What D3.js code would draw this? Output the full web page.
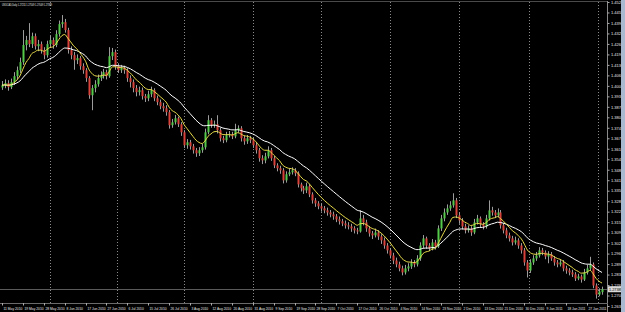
<!DOCTYPE html>
<html>
<head>
<meta charset="utf-8">
<script src="https://cdn.jsdelivr.net/npm/d3@7/dist/d3.min.js"></script>
<style>
  html, body { margin: 0; padding: 0; background: #000; }
  svg { display: block; }
  text { font-family: "Liberation Sans", sans-serif; }
</style>
</head>
<body>
<div id="chart"></div>
<script>
// chart title, as shown top-left
var symbol = "USDCAD,Daily";
var lastBar = ["1.27211", "1.27549", "1.27049", "1.27389"];

// daily candles (oldest first)
var opens = [1.3990,1.4004,1.4017,1.3992,1.4023,1.4060,1.4097,1.4147,1.4253,1.4284,
  1.4259,1.4308,1.4246,1.4259,1.4222,1.4190,1.4259,1.4284,1.4253,1.4321,
  1.4383,1.4395,1.4346,1.4222,1.4190,1.4159,1.4172,1.4122,1.4097,1.4048,
  1.3942,1.3986,1.4010,1.4048,1.4066,1.4085,1.4060,1.4184,1.4209,1.4122,
  1.4097,1.4110,1.4097,1.4048,1.4023,1.3986,1.3961,1.3973,1.3936,1.3923,
  1.3948,1.3973,1.3923,1.3899,1.3874,1.3861,1.3837,1.3756,1.3774,1.3799,
  1.3762,1.3712,1.3632,1.3650,1.3625,1.3601,1.3582,1.3601,1.3619,1.3712,
  1.3787,1.3756,1.3762,1.3725,1.3675,1.3663,1.3694,1.3700,1.3687,1.3725,
  1.3737,1.3675,1.3656,1.3675,1.3663,1.3632,1.3601,1.3551,1.3538,1.3563,
  1.3601,1.3551,1.3507,1.3489,1.3476,1.3414,1.3452,1.3464,1.3476,1.3458,
  1.3389,1.3365,1.3352,1.3377,1.3327,1.3290,1.3271,1.3253,1.3240,1.3228,
  1.3215,1.3203,1.3191,1.3172,1.3160,1.3147,1.3135,1.3128,1.3116,1.3104,
  1.3097,1.3178,1.3153,1.3116,1.3085,1.3073,1.3091,1.3066,1.3042,1.3010,
  1.2980,1.2948,1.2917,1.2893,1.2868,1.2843,1.2868,1.2880,1.2905,1.2893,
  1.2930,1.3010,1.3054,1.3010,1.2992,1.3029,1.3004,1.3116,1.3178,1.3215,
  1.3240,1.3259,1.3290,1.3197,1.3166,1.3128,1.3104,1.3116,1.3091,1.3153,
  1.3178,1.3141,1.3128,1.3178,1.3228,1.3215,1.3197,1.3215,1.3135,1.3104,
  1.3073,1.3054,1.3029,1.3042,1.3010,1.2980,1.2905,1.2855,1.2905,1.2930,
  1.2948,1.2980,1.2967,1.2942,1.2955,1.2930,1.2905,1.2893,1.2905,1.2868,
  1.2855,1.2843,1.2831,1.2806,1.2818,1.2799,1.2843,1.2868,1.2893,1.2762,
  1.2706,1.2721];
var highs = [1.4030,1.4040,1.4035,1.4045,1.4085,1.4120,1.4175,1.4346,1.4310,1.4389,
  1.4330,1.4325,1.4285,1.4275,1.4240,1.4280,1.4310,1.4300,1.4345,1.4405,
  1.4439,1.4415,1.4360,1.4245,1.4210,1.4195,1.4185,1.4140,1.4110,1.4060,
  1.4005,1.4035,1.4070,1.4090,1.4105,1.4100,1.4240,1.4235,1.4225,1.4140,
  1.4130,1.4125,1.4110,1.4065,1.4040,1.4005,1.3995,1.3990,1.3950,1.3970,
  1.3995,1.3985,1.3940,1.3915,1.3895,1.3880,1.3850,1.3795,1.3820,1.3810,
  1.3775,1.3725,1.3670,1.3665,1.3640,1.3615,1.3620,1.3640,1.3735,1.3818,
  1.3800,1.3785,1.3818,1.3740,1.3690,1.3715,1.3720,1.3715,1.3765,1.3755,
  1.3750,1.3690,1.3695,1.3690,1.3680,1.3650,1.3615,1.3570,1.3585,1.3625,
  1.3615,1.3565,1.3520,1.3505,1.3490,1.3470,1.3485,1.3495,1.3490,1.3470,
  1.3400,1.3380,1.3400,1.3390,1.3340,1.3305,1.3285,1.3270,1.3255,1.3245,
  1.3230,1.3220,1.3205,1.3190,1.3175,1.3165,1.3155,1.3145,1.3130,1.3120,
  1.3228,1.3200,1.3170,1.3130,1.3100,1.3115,1.3105,1.3080,1.3060,1.3025,
  1.2995,1.2965,1.2935,1.2910,1.2885,1.2890,1.2900,1.2925,1.2920,1.2950,
  1.3030,1.3075,1.3065,1.3025,1.3050,1.3045,1.3135,1.3200,1.3240,1.3265,
  1.3285,1.3334,1.3305,1.3215,1.3180,1.3145,1.3135,1.3130,1.3175,1.3200,
  1.3190,1.3155,1.3200,1.3290,1.3250,1.3230,1.3240,1.3230,1.3150,1.3120,
  1.3090,1.3070,1.3065,1.3055,1.3025,1.2995,1.2920,1.2925,1.2950,1.2970,
  1.3000,1.2995,1.2980,1.2975,1.2970,1.2945,1.2920,1.2925,1.2920,1.2885,
  1.2870,1.2860,1.2845,1.2835,1.2830,1.2865,1.2890,1.2940,1.2905,1.2775,
  1.2745,1.2755];
var lows = [1.3975,1.3985,1.3970,1.3980,1.4005,1.4040,1.4080,1.4130,1.4220,1.4240,
  1.4235,1.4225,1.4215,1.4200,1.4165,1.4175,1.4240,1.4230,1.4240,1.4305,
  1.4360,1.4330,1.4200,1.4165,1.4100,1.4135,1.4100,1.4075,1.4025,1.3920,
  1.3849,1.3960,1.3995,1.4030,1.4045,1.4040,1.4050,1.4160,1.4100,1.4080,
  1.4080,1.4075,1.4025,1.3990,1.3960,1.3935,1.3940,1.3915,1.3900,1.3905,
  1.3930,1.3905,1.3880,1.3855,1.3840,1.3815,1.3735,1.3740,1.3760,1.3745,
  1.3690,1.3615,1.3610,1.3605,1.3580,1.3560,1.3565,1.3585,1.3605,1.3700,
  1.3740,1.3740,1.3705,1.3655,1.3645,1.3650,1.3680,1.3670,1.3675,1.3710,
  1.3655,1.3635,1.3640,1.3645,1.3615,1.3580,1.3530,1.3515,1.3520,1.3550,
  1.3535,1.3490,1.3470,1.3455,1.3395,1.3400,1.3440,1.3450,1.3440,1.3370,
  1.3345,1.3330,1.3335,1.3310,1.3270,1.3250,1.3235,1.3220,1.3210,1.3195,
  1.3185,1.3170,1.3155,1.3140,1.3130,1.3115,1.3110,1.3095,1.3085,1.3080,
  1.3090,1.3135,1.3095,1.3065,1.3050,1.3060,1.3045,1.3020,1.2990,1.2960,
  1.2930,1.2895,1.2875,1.2850,1.2825,1.2830,1.2850,1.2865,1.2875,1.2880,
  1.2915,1.2995,1.2990,1.2975,1.2980,1.2985,1.2995,1.3100,1.3160,1.3200,
  1.3225,1.3245,1.3180,1.3145,1.3110,1.3085,1.3090,1.3070,1.3080,1.3140,
  1.3125,1.3110,1.3115,1.3165,1.3195,1.3180,1.3185,1.3115,1.3085,1.3055,
  1.3035,1.3010,1.3015,1.2990,1.2960,1.2885,1.2812,1.2840,1.2890,1.2915,
  1.2935,1.2950,1.2925,1.2900,1.2915,1.2885,1.2875,1.2880,1.2850,1.2835,
  1.2825,1.2815,1.2790,1.2795,1.2780,1.2790,1.2830,1.2855,1.2745,1.2681,
  1.2695,1.2705];
var closes = [1.4004,1.4017,1.3992,1.4023,1.4060,1.4097,1.4147,1.4253,1.4284,1.4259,
  1.4308,1.4246,1.4259,1.4222,1.4190,1.4259,1.4284,1.4253,1.4321,1.4383,
  1.4395,1.4346,1.4222,1.4190,1.4159,1.4172,1.4122,1.4097,1.4048,1.3942,
  1.3986,1.4010,1.4048,1.4066,1.4085,1.4060,1.4184,1.4209,1.4122,1.4097,
  1.4110,1.4097,1.4048,1.4023,1.3986,1.3961,1.3973,1.3936,1.3923,1.3948,
  1.3973,1.3923,1.3899,1.3874,1.3861,1.3837,1.3756,1.3774,1.3799,1.3762,
  1.3712,1.3632,1.3650,1.3625,1.3601,1.3582,1.3601,1.3619,1.3712,1.3787,
  1.3756,1.3762,1.3725,1.3675,1.3663,1.3694,1.3700,1.3687,1.3725,1.3737,
  1.3675,1.3656,1.3675,1.3663,1.3632,1.3601,1.3551,1.3538,1.3563,1.3601,
  1.3551,1.3507,1.3489,1.3476,1.3414,1.3452,1.3464,1.3476,1.3458,1.3389,
  1.3365,1.3352,1.3377,1.3327,1.3290,1.3271,1.3253,1.3240,1.3228,1.3215,
  1.3203,1.3191,1.3172,1.3160,1.3147,1.3135,1.3128,1.3116,1.3104,1.3097,
  1.3178,1.3153,1.3116,1.3085,1.3073,1.3091,1.3066,1.3042,1.3010,1.2980,
  1.2948,1.2917,1.2893,1.2868,1.2843,1.2868,1.2880,1.2905,1.2893,1.2930,
  1.3010,1.3054,1.3010,1.2992,1.3029,1.3004,1.3116,1.3178,1.3215,1.3240,
  1.3259,1.3290,1.3197,1.3166,1.3128,1.3104,1.3116,1.3091,1.3153,1.3178,
  1.3141,1.3128,1.3178,1.3228,1.3215,1.3197,1.3215,1.3135,1.3104,1.3073,
  1.3054,1.3029,1.3042,1.3010,1.2980,1.2905,1.2855,1.2905,1.2930,1.2948,
  1.2980,1.2967,1.2942,1.2955,1.2930,1.2905,1.2893,1.2905,1.2868,1.2855,
  1.2843,1.2831,1.2806,1.2818,1.2799,1.2843,1.2868,1.2893,1.2762,1.2706,
  1.2725,1.2739];

// date labels on the time axis, one every 7 bars starting at bar 0
var dateLabels = ["11 May 2010","19 May 2010","28 May 2010","8 Jun 2010","17 Jun 2010",
  "27 Jun 2010","6 Jul 2010","15 Jul 2010","26 Jul 2010","3 Aug 2010","12 Aug 2010",
  "20 Aug 2010","31 Aug 2010","9 Sep 2010","19 Sep 2010","28 Sep 2010","7 Oct 2010",
  "17 Oct 2010","26 Oct 2010","4 Nov 2010","14 Nov 2010","23 Nov 2010","2 Dec 2010",
  "13 Dec 2010","21 Dec 2010","30 Dec 2010","9 Jan 2011","18 Jan 2011","27 Jan 2011"];
var labelEvery = 7;

// price labels on the right axis
var priceTop = 1.4520;
var priceStep = 0.0065;
var priceCount = 30;

// bars where the dotted vertical grid sits
var gridBars = [16, 38.5, 61, 84, 107, 130, 153, 176.5, 199.5];

// moving average periods (yellow fast, white slow)
var fastPeriod = 8;
var slowPeriod = 21;

(function() {
  var width = 625,
      height = 312;

  var svg = d3.select("#chart")
    .append("svg")
    .attr("width", width)
    .attr("height", height);

  svg.append("rect")
    .attr("width", width)
    .attr("height", height)
    .attr("fill", "#000");

  var n = closes.length;
  var bars = d3.range(n).map(function(i) {
    return { i: i, o: opens[i], h: highs[i], l: lows[i], c: closes[i] };
  });

  var x = d3.scaleLinear().domain([0, 200]).range([2, 599]);
  var priceBottom = priceTop - (priceCount - 1) * priceStep;
  var y = d3.scaleLinear().domain([priceBottom, priceTop]).range([306, 2]);

  //top frame line
  svg.append("line")
    .attr("x1", 0).attr("x2", 608)
    .attr("y1", 1.5).attr("y2", 1.5)
    .attr("stroke", "#4a4a4a");

  //dotted vertical grid
  svg.selectAll(".grid")
    .data(gridBars)
    .enter().append("line")
    .attr("class", "grid")
    .attr("x1", function(d) { return Math.round(x(d)) + 0.5; })
    .attr("x2", function(d) { return Math.round(x(d)) + 0.5; })
    .attr("y1", 2).attr("y2", 303)
    .attr("stroke", "#8a8a8a")
    .attr("stroke-dasharray", "1,2");

  //bid line
  svg.append("line")
    .attr("x1", 0).attr("x2", 608)
    .attr("y1", Math.round(y(closes[n - 1])) + 0.5)
    .attr("y2", Math.round(y(closes[n - 1])) + 0.5)
    .attr("stroke", "#5a5a5a");

  //wicks
  svg.selectAll(".wick")
    .data(bars)
    .enter().append("line")
    .attr("class", "wick")
    .attr("x1", function(d) { return Math.round(x(d.i)) + 0.5; })
    .attr("x2", function(d) { return Math.round(x(d.i)) + 0.5; })
    .attr("y1", function(d) { return y(d.h); })
    .attr("y2", function(d) { return y(d.l); })
    .attr("stroke", "#9c9c9c")
    .attr("stroke-width", 1);

  //bodies
  svg.selectAll(".body")
    .data(bars)
    .enter().append("rect")
    .attr("class", "body")
    .attr("x", function(d) { return Math.round(x(d.i)) - 0.5; })
    .attr("width", 2)
    .attr("y", function(d) { return y(Math.max(d.o, d.c)); })
    .attr("height", function(d) { return Math.max(1, Math.abs(y(d.o) - y(d.c))); })
    .attr("fill", function(d) { return d.c >= d.o ? "#55c94a" : "#d8423a"; });

  function ema(values, period) {
    var k = 2 / (period + 1), out = [], prev = values[0];
    values.forEach(function(v, i) {
      prev = i === 0 ? v : v * k + prev * (1 - k);
      out.push(prev);
    });
    return out;
  }

  var line = d3.line()
    .x(function(d, i) { return x(i); })
    .y(function(d) { return y(d); })
    .curve(d3.curveMonotoneX);

  svg.append("path")
    .datum(ema(closes, slowPeriod))
    .attr("d", line)
    .attr("fill", "none")
    .attr("stroke", "#ffffff")
    .attr("stroke-width", 1);

  svg.append("path")
    .datum(ema(closes, fastPeriod))
    .attr("d", line)
    .attr("fill", "none")
    .attr("stroke", "#e8dc4c")
    .attr("stroke-width", 1);

  //right price axis
  svg.append("line")
    .attr("x1", 607.5).attr("x2", 607.5)
    .attr("y1", 1).attr("y2", 312)
    .attr("stroke", "#8a8a8a");

  var priceTicks = d3.range(priceCount).map(function(k) { return priceTop - k * priceStep; });

  var yAxis = d3.axisRight(y)
    .tickValues(priceTicks)
    .tickSize(2)
    .tickPadding(1.5)
    .tickFormat(d3.format(".4f"));

  var ya = svg.append("g")
    .attr("transform", "translate(607.5,0)")
    .call(yAxis);
  ya.select(".domain").remove();
  ya.selectAll("line").attr("stroke", "#aaaaaa");
  ya.selectAll("text")
    .attr("fill", "#e8e8e8")
    .attr("font-size", "4px")
    .attr("font-family", "Liberation Sans, sans-serif");

  //current price tag
  var yc = y(closes[n - 1]);
  svg.append("rect")
    .attr("x", 608).attr("y", yc - 3)
    .attr("width", 13).attr("height", 6)
    .attr("fill", "#d8d8d8");
  svg.append("text")
    .attr("x", 609).attr("y", yc + 1.5)
    .attr("font-size", "3.8px")
    .attr("fill", "#000")
    .text(lastBar[3]);

  //window edge on the right
  svg.append("rect")
    .attr("x", 621).attr("y", 0)
    .attr("width", 4).attr("height", height)
    .attr("fill", "#a9b9cf");

  //time axis
  svg.append("line")
    .attr("x1", 0).attr("x2", 608)
    .attr("y1", 303.5).attr("y2", 303.5)
    .attr("stroke", "#6a6a6a");

  var dates = svg.selectAll(".date")
    .data(dateLabels)
    .enter().append("g")
    .attr("class", "date")
    .attr("transform", function(d, k) {
      return "translate(" + (Math.round(x(k * labelEvery)) + 0.5) + ",0)";
    });

  dates.append("line")
    .attr("y1", 303).attr("y2", 305.5)
    .attr("stroke", "#aaaaaa");

  dates.append("text")
    .attr("x", 1)
    .attr("y", 309.5)
    .attr("font-size", "3.3px")
    .attr("fill", "#e8e8e8")
    .text(function(d) { return d; });

  //title
  svg.append("text")
    .attr("x", 2)
    .attr("y", 6)
    .attr("font-size", "4px")
    .attr("fill", "#e8e8e8")
    .attr("textLength", 50)
    .attr("lengthAdjust", "spacingAndGlyphs")
    .text(symbol + " " + lastBar.join(" "));
})();
</script>
</body>
</html>
